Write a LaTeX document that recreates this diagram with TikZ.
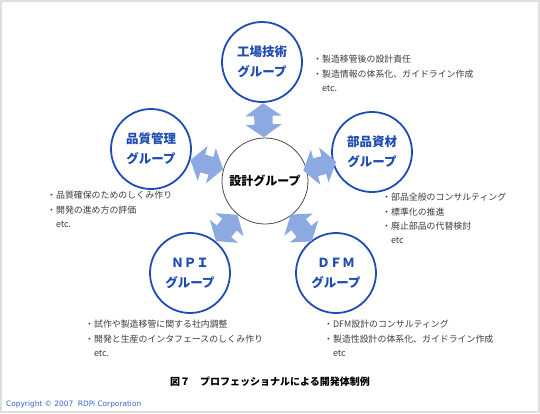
\documentclass[tikz,border=0pt]{standalone}
\usepackage{fontspec}
\setmainfont{Noto Sans CJK JP}
\newfontfamily\copyfont{DejaVu Sans}
\usetikzlibrary{shapes.arrows}

\definecolor{grpblue}{RGB}{30,75,180}
\definecolor{arrblue}{RGB}{140,170,225}
\definecolor{txtgray}{RGB}{60,60,60}
\definecolor{copyblue}{RGB}{50,100,200}

\begin{document}
\begin{tikzpicture}[x=1pt, y=-1pt,
    grp/.style    = {draw=grpblue, circle, line width=1.8pt, minimum size=80pt,
                     inner sep=0pt, align=center, text=grpblue,
                     font=\fontsize{12.5}{20}\selectfont\bfseries},
    core/.style   = {draw=black!70, circle, line width=0.8pt, minimum size=86pt,
                     inner sep=0pt, font=\fontsize{12}{14}\selectfont\bfseries},
    dblarr/.style = {double arrow, fill=arrblue, minimum height=34pt,
                     inner xsep=0pt, inner ysep=9pt, text height=0pt, text depth=0pt,
                     double arrow head extend=9pt, double arrow tip angle=110},
    note/.style   = {anchor=north west, align=left, inner sep=0pt, text=txtgray,
                     font=\fontsize{8.9}{14.4}\selectfont}
  ]
    \useasboundingbox (0,0) rectangle (540,413);
    \draw[gray!25, line width=2pt] (1,1) rectangle (539,412);

    \node[core] (sekkei)    at (265,181) {設計グループ};
    \node[grp]  (kojo)      at (262,62)  {工場技術\\グループ};
    \node[grp]  (hinshitsu) at (151,149) {品質管理\\グループ};
    \node[grp]  (buhin)     at (372,152) {部品資材\\グループ};
    \node[grp]  (npi)       at (190,273) {ＮＰＩ\\グループ};
    \node[grp]  (dfm)       at (336,273) {ＤＦＭ\\グループ};

    \path (sekkei) -- node[dblarr, sloped] {} (kojo);
    \path (sekkei) -- node[dblarr, sloped] {} (hinshitsu);
    \path (sekkei) -- node[dblarr, sloped] {} (buhin);
    \path (sekkei) -- node[dblarr, sloped] {} (npi);
    \path (sekkei) -- node[dblarr, sloped] {} (dfm);

    \node[note] (kojonote) at (313,55)
          {・製造移管後の設計責任\\・製造情報の体系化、ガイドライン作成\\\hspace*{1em}etc.};
    \node[note] (hinshitsunote) at (47,191)
          {・品質確保のためのしくみ作り\\・開発の進め方の評価\\\hspace*{1em}etc.};
    \node[note] (buhinnote) at (382,193)
          {・部品全般のコンサルティング\\・標準化の推進\\・廃止部品の代替検討\\\hspace*{1em}etc};
    \node[note] (npinote) at (85,320)
          {・試作や製造移管に関する社内調整\\・開発と生産のインタフェースのしくみ作り\\\hspace*{1em}etc.};
    \node[note] (dfmnote) at (324,320)
          {・DFM設計のコンサルティング\\・製造性設計の体系化、ガイドライン作成\\\hspace*{1em}etc};

    \node[font=\fontsize{10}{12}\selectfont\bfseries] (caption) at (270,382)
          {図７　プロフェッショナルによる開発体制例};
    \node[anchor=base west, inner sep=0pt, text=copyblue,
          font=\copyfont\fontsize{7.4}{9}\selectfont] (copyright) at (6,406)
          {Copyright © 2007\ \ RDPi Corporation};
  \end{tikzpicture}
\end{document}
